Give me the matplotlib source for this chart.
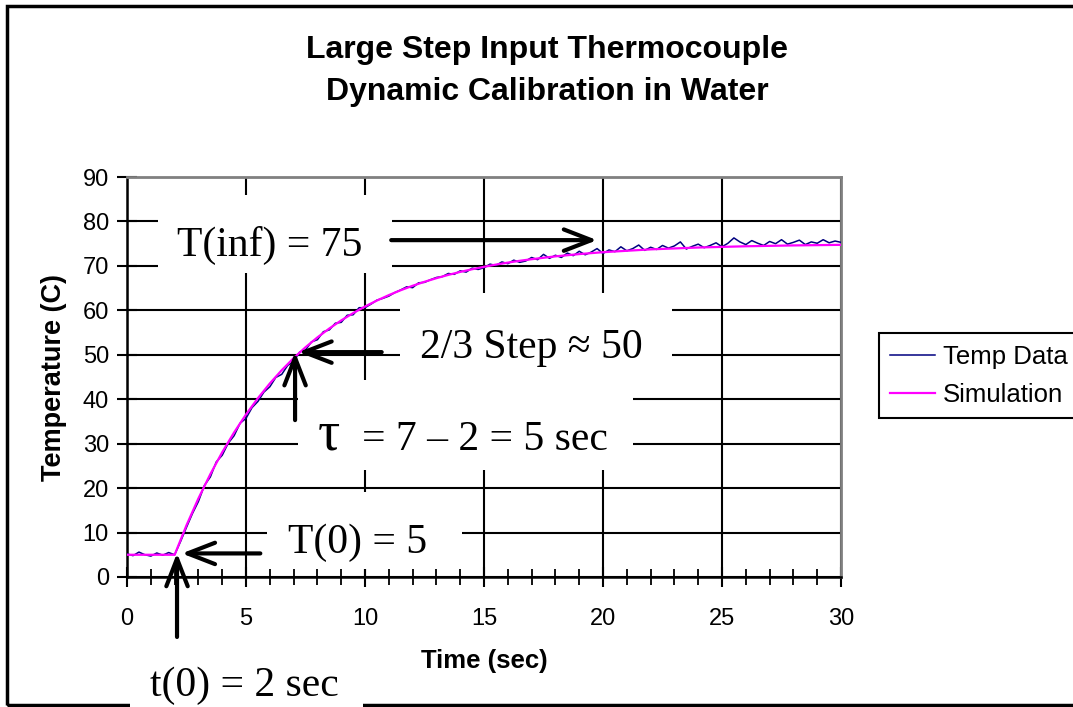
import matplotlib

matplotlib.use("Agg")
import matplotlib.pyplot as plt
from matplotlib.patches import Rectangle
import numpy as np

# temperature readings (deg C), one every 0.25 s from 0 to 30 s
TEMP_T0 = 0.0
TEMP_DT = 0.25
TEMP_DATA = [
    5.2, 4.8, 5.6, 5.0, 4.7, 5.4, 4.9, 5.5,
    5.0, 8.0, 11.2, 14.3, 17.0, 20.6, 22.5, 25.9,
    27.4, 30.1, 31.8, 34.6, 35.7, 38.1, 39.5, 41.6,
    42.8, 44.9, 45.6, 47.6, 48.5, 50.6, 51.1, 52.9,
    53.4, 55.2, 55.6, 57.1, 57.3, 58.9, 59.0, 60.6,
    60.6, 61.4, 62.3, 62.7, 63.2, 64.0, 64.6, 65.3,
    65.1, 66.2, 66.3, 66.9, 67.4, 67.6, 68.3, 68.1,
    68.9, 68.6, 69.5, 69.2, 69.6, 70.4, 70.1, 70.9,
    70.5, 71.3, 70.8, 71.1, 71.9, 71.4, 72.6, 71.7,
    72.4, 71.9, 72.9, 72.3, 73.3, 72.5, 73.1, 73.9,
    72.8, 73.6, 73.2, 74.3, 73.4, 73.9, 74.7, 73.5,
    74.2, 73.7, 74.6, 74.0, 74.5, 75.4, 73.8, 74.4,
    74.9, 74.1, 74.6, 75.2, 74.3, 75.1, 76.3, 75.4,
    74.8, 75.7, 75.1, 74.6, 75.5, 75.0, 75.9, 74.9,
    75.3, 75.8, 74.8, 75.4, 75.1, 75.9, 75.2, 75.6,
    75.3,
]

# first-order model curve
SIM_TIME = [0, 2, 2.5, 3, 3.5, 4, 4.5, 5, 5.5, 6, 6.5, 7, 7.5, 8, 8.5, 9, 9.5,
            10, 10.5, 11, 11.5, 12, 12.5, 13, 13.5, 14, 14.5, 15, 15.5, 16,
            16.5, 17, 18, 19, 20, 22, 24, 26, 28, 30]
SIM_TEMP = [5.0, 5.0, 11.66, 17.69, 23.14, 28.08, 32.54, 36.58, 40.24, 43.55,
            46.54, 49.25, 51.70, 53.92, 55.92, 57.74, 59.38, 60.87, 62.21,
            63.43, 64.53, 65.53, 66.43, 67.24, 67.98, 68.65, 69.25, 69.80,
            70.30, 70.74, 71.15, 71.51, 72.15, 72.66, 73.09, 73.72, 74.14,
            74.42, 74.61, 74.74]

SERIES_NAMES = ["Temp Data", "Simulation"]
TITLE_LINES = ["Large Step Input Thermocouple", "Dynamic Calibration in Water"]

SANS = ["Liberation Sans", "DejaVu Sans"]
SERIF = ["Liberation Serif", "DejaVu Serif"]


def main() -> None:
    plt.rcParams["font.family"] = SANS
    fig = plt.figure(figsize=(10.73, 7.07), dpi=100)
    ax = fig.add_axes([0.1184, 0.1839, 0.6654, 0.5657])

    # outer chart border (right edge runs off the picture)
    fig.add_artist(Rectangle((0.0065, 0.003), 1.2, 0.988, transform=fig.transFigure,
                             fill=False, edgecolor="black", lw=2.5, zorder=-1))

    temp_time = TEMP_T0 + TEMP_DT * np.arange(len(TEMP_DATA))
    ax.plot(temp_time, TEMP_DATA, color="#000080", lw=1.1, label=SERIES_NAMES[0], zorder=3)
    ax.plot(SIM_TIME, SIM_TEMP, color="#FF00FF", lw=1.6, label=SERIES_NAMES[1], zorder=3)

    ax.set_xlim(0, 30)
    ax.set_ylim(0, 90)
    ax.set_xticks(np.arange(0, 31, 5))
    ax.set_xticks(np.arange(0, 31, 1), minor=True)
    ax.set_yticks(np.arange(0, 91, 10))
    ax.grid(which="major", color="black", lw=1.5, zorder=1)
    ax.set_axisbelow(True)
    ax.tick_params(which="major", direction="inout", length=14, width=1.5, labelsize=17)
    ax.tick_params(axis="x", which="major", pad=15)
    ax.tick_params(axis="y", which="major", pad=6)
    ax.tick_params(axis="x", which="minor", direction="inout", length=11, width=1.3)
    for side in ("left", "bottom"):
        ax.spines[side].set_linewidth(1.8)
    for side in ("top", "right"):
        ax.spines[side].set_color("#808080")
        ax.spines[side].set_linewidth(2)

    ax.set_xlabel("Time (sec)", fontsize=18.5, fontweight="bold", labelpad=14)
    ax.set_ylabel("Temperature (C)", fontsize=19.5, fontweight="bold", labelpad=11)

    for line, y in zip(TITLE_LINES, (0.9293, 0.8699)):
        fig.text(0.51, y, line, ha="center", va="center", fontsize=23, fontweight="bold")

    leg = fig.legend(loc="upper left", bbox_to_anchor=(0.819, 0.529), fontsize=18.5,
                     frameon=True, fancybox=False, framealpha=1, edgecolor="black",
                     handlelength=1.75, handletextpad=0.3, borderpad=0.45,
                     labelspacing=0.55, borderaxespad=0)
    leg.get_frame().set_linewidth(1.5)

    # white boxes behind the annotation texts (x0, x1, y0, y1 in data units)
    boxes = [
        (1.30, 11.13, 68.4, 85.95),
        (11.47, 22.90, 43.2, 63.9),
        (7.18, 21.26, 24.1, 44.3),
        (5.88, 14.08, 1.8, 19.1),
        (0.13, 9.92, -32.5, -14.2),
    ]
    for x0, x1, y0, y1 in boxes:
        ax.add_patch(Rectangle((x0, y0), x1 - x0, y1 - y0, facecolor="white",
                               edgecolor="none", zorder=2, clip_on=False))

    notes = [
        ("T(inf) = 75", 6.0, 74.5),
        ("2/3 Step \u2248 50", 17.0, 51.6),
        ("T(0) = 5", 9.7, 7.7),
        ("t(0) = 2 sec", 4.95, -24.5),
    ]
    for text, x, y in notes:
        ax.text(x, y, text, ha="center", va="center", fontsize=30, family=SERIF,
                zorder=4, clip_on=False)
    ax.text(8.49, 28.6, "\u03c4", ha="center", va="baseline", fontsize=40,
            family=SERIF, zorder=4)
    ax.text(15.04, 28.6, "= 7 \u2013 2 = 5 sec", ha="center", va="baseline",
            fontsize=30, family=SERIF, zorder=4)

    arrows = [
        ((19.75, 75.8), (11.1, 75.8)),
        ((7.2, 50.6), (10.7, 50.6)),
        ((7.06, 50.6), (7.06, 35.3)),
        ((2.3, 5.3), (5.6, 5.3)),
        ((2.1, 5.4), (2.1, -13.5)),
    ]
    for tip, tail in arrows:
        ax.annotate("", xy=tip, xytext=tail, annotation_clip=False, zorder=5,
                    arrowprops=dict(arrowstyle="->,head_length=0.9,head_width=0.35",
                                    lw=3, color="black", shrinkA=0, shrinkB=0,
                                    mutation_scale=22))

    fig.savefig("out.png", dpi=100)
    plt.close(fig)


if __name__ == "__main__":
    main()
